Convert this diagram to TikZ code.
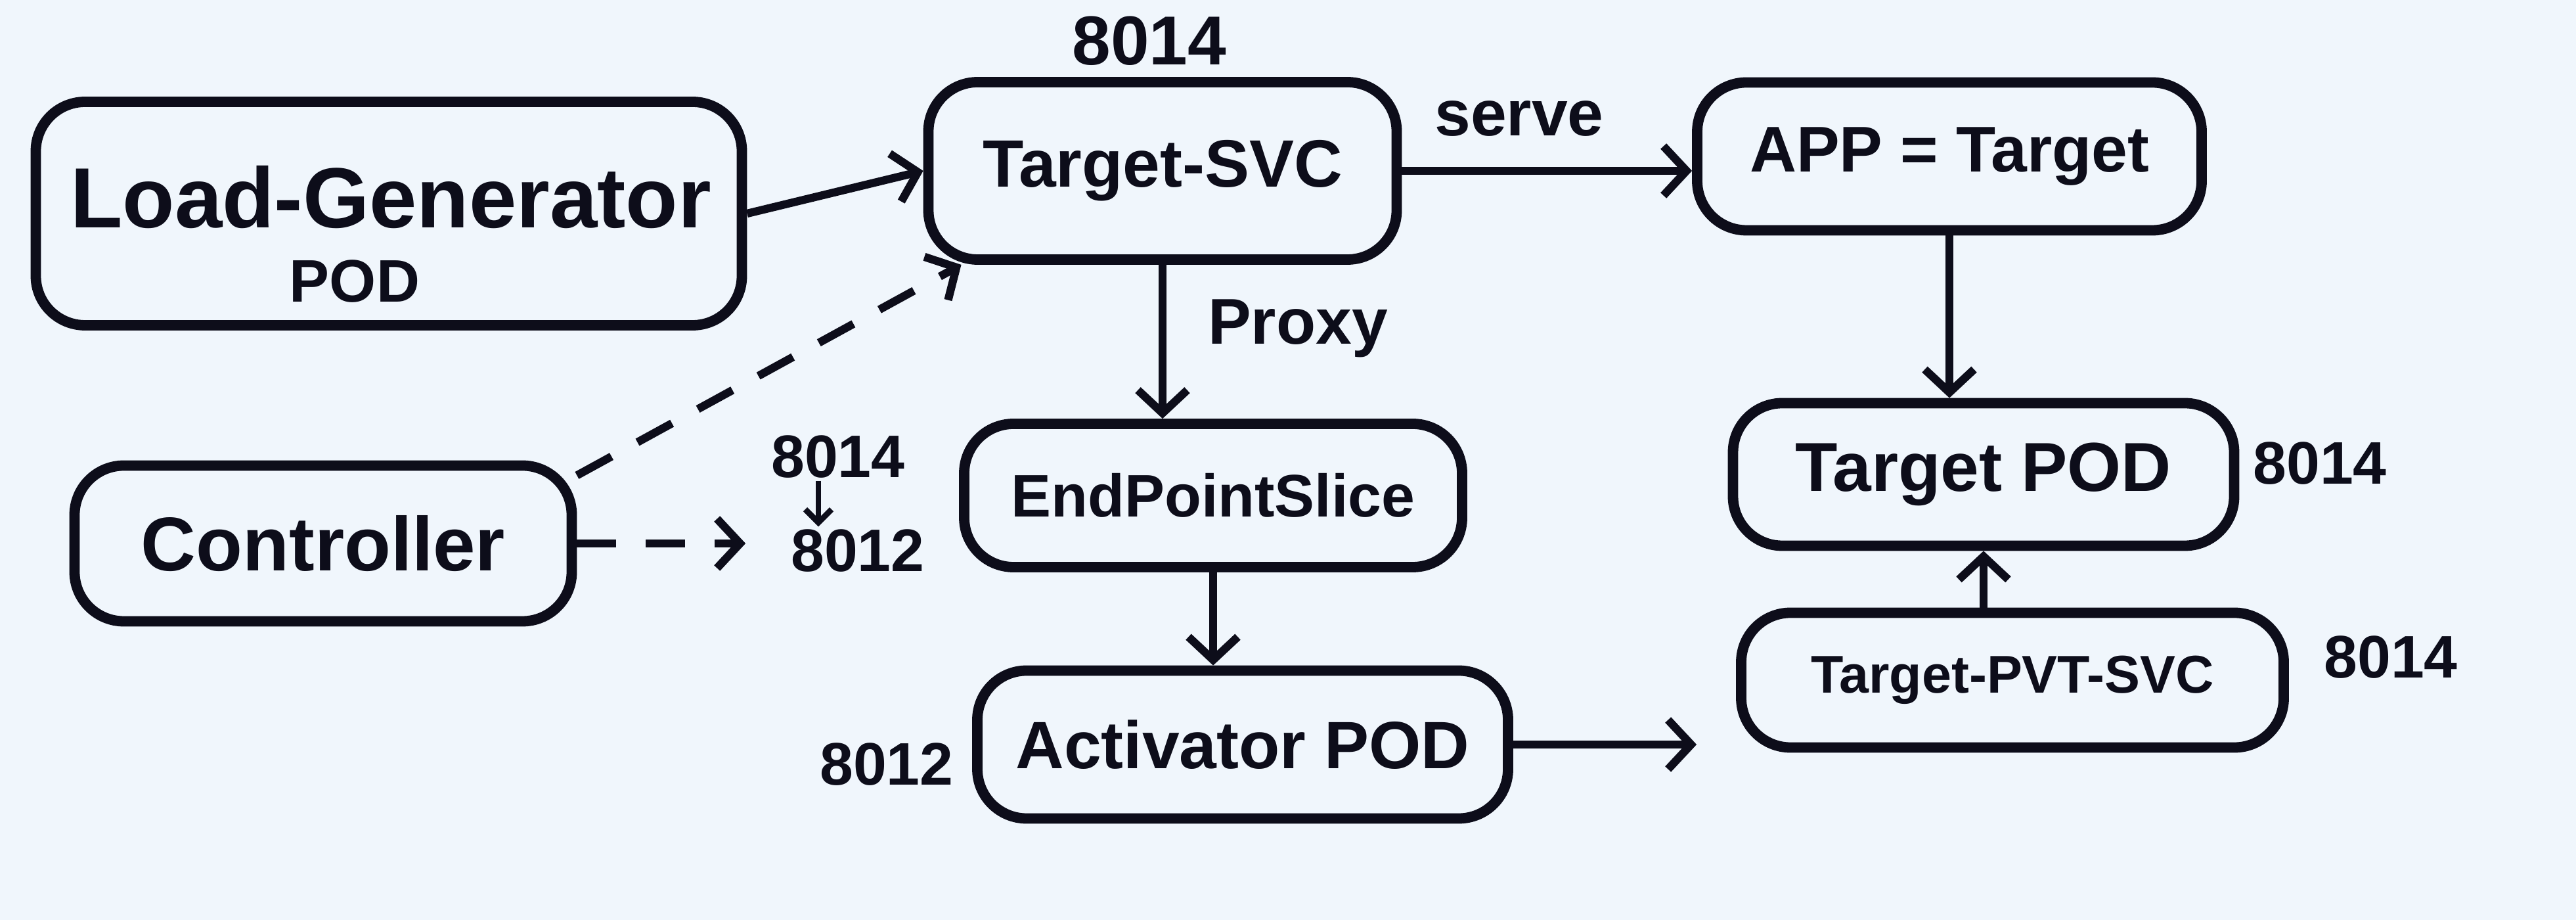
\documentclass[tikz,border=0pt]{standalone}
\usepackage{fontspec}
\setmainfont{Liberation Sans}
\usetikzlibrary{arrows.meta}
\definecolor{bg}{HTML}{F0F6FC}
\definecolor{ink}{HTML}{0D0D1A}
\tikzset{
  box/.style={draw=ink, line width=4.5pt, rounded corners=0.75cm, align=center, text=ink, inner sep=0pt},
  lbl/.style={text=ink, font=\bfseries\fontsize{26}{28}\selectfont, inner sep=1pt},
  conn/.style={draw=ink, line width=3.5pt, -{Straight Barb[length=0.35cm,width=0.75cm,line width=3.5pt]}},
  dconn/.style={conn, dash pattern=on 0.6cm off 0.45cm}
}
\begin{document}
\begin{tikzpicture}
\fill[bg] (0,0) rectangle (39.22,14);
\useasboundingbox (0,0) rectangle (39.22,14);

\node[box, minimum width=10.75cm, minimum height=3.4cm] (lg) at (5.92,10.75) {};
\node[lbl, font=\bfseries\fontsize{37}{42}\selectfont] (lgt) at (5.95,11.0) {Load-Generator};
\node[lbl, font=\bfseries\fontsize{26}{30}\selectfont] (lgp) at (5.40,9.72) {POD};
\node[box, minimum width=7.13cm, minimum height=2.7cm, font=\bfseries\fontsize{29}{34}\selectfont] (tsvc) at (17.70,11.40) {Target-SVC};
\node[box, minimum width=7.68cm, minimum height=2.25cm, font=\bfseries\fontsize{28}{32}\selectfont] (app) at (29.68,11.62) {APP = Target};
\node[box, minimum width=7.58cm, minimum height=2.18cm, font=\bfseries\fontsize{26}{30}\selectfont] (eps) at (18.47,6.46) {EndPointSlice};
\node[box, minimum width=7.63cm, minimum height=2.17cm, font=\bfseries\fontsize{30}{34}\selectfont] (tpod) at (30.20,6.78) {Target POD};
\node[box, minimum width=7.57cm, minimum height=2.37cm, font=\bfseries\fontsize{33}{38}\selectfont] (ctrl) at (4.92,5.73) {Controller};
\node[box, minimum width=8.08cm, minimum height=2.25cm, font=\bfseries\fontsize{29}{32}\selectfont] (act) at (18.92,2.67) {Activator POD};
\node[box, minimum width=8.26cm, minimum height=2.05cm, font=\bfseries\fontsize{23}{26}\selectfont] (pvt) at (30.64,3.65) {Target-PVT-SVC};

\node[lbl, font=\bfseries\fontsize{30}{32}\selectfont] (p1) at (17.50,13.38) {8014};
\node[lbl, font=\bfseries\fontsize{28}{30}\selectfont] (serve) at (23.13,12.20) {serve};
\node[lbl, font=\bfseries\fontsize{28}{30}\selectfont] (proxy) at (19.76,9.00) {Proxy};
\node[lbl] (c1) at (12.76,7.05) {8014};
\node[lbl] (c2) at (13.06,5.62) {8012};
\node[lbl] (p2) at (35.32,6.95) {8014};
\node[lbl] (p3) at (36.40,4.00) {8014};
\node[lbl] (p4) at (13.50,2.37) {8012};

\draw[conn] (lg.east) -- (tsvc.west);
\draw[dconn] (ctrl.15) -- (tsvc.205);
\draw[dconn, shorten >=0.35cm] (ctrl.east) -- (c1.west |- ctrl.east);
\draw[draw=ink, line width=2.5pt, -{Straight Barb[length=0.2cm,width=0.4cm,line width=2.5pt]}] ([xshift=-0.3cm]c1.south) -- ([xshift=-0.3cm]c1.south |- c2.north);
\draw[conn] (tsvc.east) -- (app.west |- tsvc.east);
\draw[conn] (tsvc.south) -- (tsvc.south |- eps.north);
\draw[conn] (app.south) -- (app.south |- tpod.north);
\draw[conn] (eps.south) -- (eps.south |- act.north);
\draw[conn, shorten >=0.6cm] (act.east) -- (pvt.west |- act.east);
\draw[conn] (tpod.south |- pvt.north) -- (tpod.south);
\end{tikzpicture}
\end{document}
